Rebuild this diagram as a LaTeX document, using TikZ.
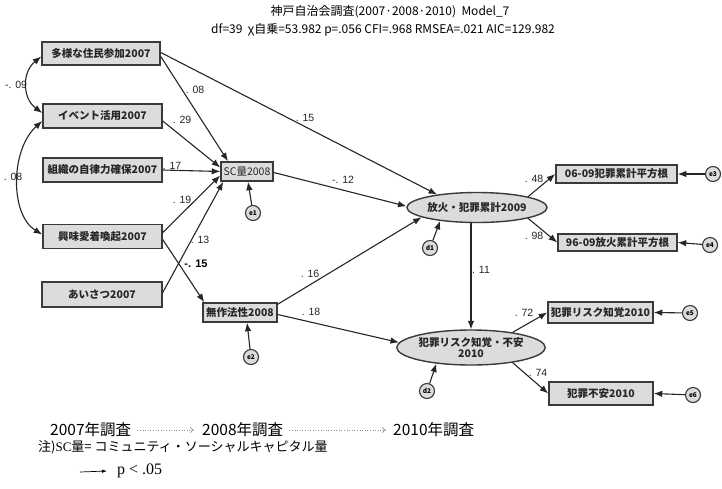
\documentclass[tikz,border=0pt]{standalone}
\usepackage{fontspec}
\setmainfont{Noto Sans CJK JP}
\newfontfamily\labfont{Liberation Sans}
\newfontfamily\serfont{Liberation Serif}
\usetikzlibrary{arrows.meta,shapes.geometric}
\definecolor{boxfill}{HTML}{DCDCDC}
\definecolor{edgecol}{HTML}{3A3A3A}
\definecolor{linecol}{HTML}{262626}
\begin{document}
\begin{tikzpicture}[x=1pt,y=-1pt,
  obs/.style={draw=edgecol, line width=1.5pt, fill=boxfill, inner sep=0pt,
    font=\fontsize{10.5}{12}\selectfont\bfseries, text=black!85},
  lat/.style={ellipse, draw=edgecol, line width=1.4pt, fill=boxfill, inner sep=0pt,
    align=center, font=\fontsize{10.5}{11}\selectfont\bfseries, text=black!85},
  err/.style={circle, draw=edgecol, line width=1.1pt, fill=boxfill, minimum size=15pt,
    inner sep=0pt, font=\fontsize{6.5}{7}\selectfont\bfseries},
  arr/.style={draw=linecol, line width=1.1pt, -{Latex[length=8.5pt,width=6.5pt]}},
  dbl/.style={draw=linecol, line width=1.1pt, {Latex[length=8.5pt,width=6.5pt]}-{Latex[length=8.5pt,width=6.5pt]}},
  coef/.style={font=\labfont\fontsize{10.5}{12}\selectfont, inner sep=0pt, text=black!85},
  survey/.style={font=\fontsize{15.5}{18}\selectfont, inner sep=0pt, anchor=west},
  dotarr/.style={draw=black!45, line width=0.6pt, dotted, -{To[length=4pt,width=6pt]}}
]
\useasboundingbox[fill=white] (0,0) rectangle (722,488);

% title
\node[font=\fontsize{12}{14}\selectfont, inner sep=0pt] (t1) at (390,12) {神戸自治会調査(2007·2008·2010)\ \ Model\_7};
\node[font=\fontsize{12}{14}\selectfont, inner sep=0pt] (t2) at (383,30) {df=39\ \ χ自乗=53.982 p=.056 CFI=.968 RMSEA=.021 AIC=129.982};

% observed exogenous
\node[obs, minimum width=118pt, minimum height=23pt] (tas) at (101,53.5) {多様な住民参加2007};
\node[obs, minimum width=119pt, minimum height=24pt] (ev) at (102.5,116) {イベント活用2007};
\node[obs, minimum width=119pt, minimum height=24pt] (so) at (102.5,170) {組織の自律力確保2007};
\node[obs, minimum width=119pt, minimum height=24pt] (ky) at (102.5,236.5) {興味愛着喚起2007};
\node[obs, minimum width=120pt, minimum height=25pt] (ai) at (102,294.5) {あいさつ2007};

% 2008
\node[obs, minimum width=52pt, minimum height=19pt, font=\fontsize{10.5}{12}\selectfont] (sc) at (247,171.5) {SC量2008};
\node[obs, minimum width=74pt, minimum height=19pt] (mu) at (240,312.5) {無作法性2008};

% latent
\node[lat, minimum width=118pt, minimum height=30pt] (hk) at (477,207.5) {放火・犯罪累計2009};
\node[lat, minimum width=122pt, minimum height=35pt] (hr) at (471,347.5) {犯罪リスク知覚・不安\\2010};

% indicators
\node[obs, minimum width=121pt, minimum height=18pt] (b1) at (616.5,174) {06-09犯罪累計平方根};
\node[obs, minimum width=119pt, minimum height=17pt] (b2) at (617.5,242.5) {96-09放火累計平方根};
\node[obs, minimum width=105pt, minimum height=21pt] (b3) at (600.5,312.5) {犯罪リスク知覚2010};
\node[obs, minimum width=104pt, minimum height=23pt] (b4) at (601,393.5) {犯罪不安2010};

% errors
\node[err] (e1) at (253,213) {e1};
\node[err] (e2) at (251,357) {e2};
\node[err] (d1) at (430,248) {d1};
\node[err] (d2) at (427,391) {d2};
\node[err] (e3) at (713,174) {e3};
\node[err] (e4) at (710,245) {e4};
\node[err] (e5) at (690,313) {e5};
\node[err] (e6) at (693,395) {e6};

% covariances
\draw[dbl] ([yshift=-3pt]tas.west) .. controls (22,72) and (22,98) .. ([yshift=3pt]ev.west);
\draw[dbl] ([yshift=-5pt]ev.west) .. controls (10,150) and (10,215) .. ([yshift=2pt]ky.west);

% paths to SC
\draw[arr] ([yshift=-3pt]tas.east) -- ([xshift=-19pt]sc.north);
\draw[arr] ([yshift=-5pt]ev.east) -- ([yshift=4pt]sc.west);
\draw[arr] (so.east) -- (sc.west);
\draw[arr] ([yshift=4pt]ky.east) -- ([yshift=-4pt]sc.west);
\draw[arr] ([yshift=2pt]ai.east) -- ([xshift=3pt]sc.south west);
% to mu
\draw[arr] ([yshift=-3pt]ky.east) -- ([xshift=2pt]mu.north west);
% to hk
\draw[arr] ([yshift=1pt]tas.east) -- (hk.162);
\draw[arr] ([yshift=-1pt]sc.east) -- (hk.179);
\draw[arr] ([yshift=-2pt]mu.north east) -- (hk.190);
% to hr
\draw[arr] ([yshift=-2pt]mu.east) -- (hr.176);
\draw[arr] (hk.south -| hr.north) -- (hr.north);
% indicators
\draw[arr] (hk.12) -- (b1.west);
\draw[arr] (hk.-12) -- (b2.west);
\draw[arr] (hr.20) -- (b3.west);
\draw[arr] (hr.-20) -- (b4.west);
% errors
\draw[arr] (e1) -- ([xshift=1pt]sc.south);
\draw[arr] (e2) -- ([xshift=7pt]mu.south);
\draw[arr] (d1) -- (hk.200);
\draw[arr] (d2) -- (hr.205);
\draw[arr] (e3) -- (b1.east);
\draw[arr] (e4) -- (b2.east);
\draw[arr] (e5) -- (b3.east);
\draw[arr] (e6) -- (b4.east);

% coefficients
\node[coef] (c1) at (16,85) {-. 09};
\node[coef] (c2) at (13,177) {. 08};
\node[coef] (c3) at (195,90) {. 08};
\node[coef] (c4) at (182,120) {. 29};
\node[coef] (c5) at (172,166) {. 17};
\node[coef] (c6) at (182,200) {. 19};
\node[coef] (c7) at (200,240) {. 13};
\node[coef, font=\labfont\bfseries\fontsize{11}{12}\selectfont, text=black] (c8) at (196,264) {-. 15};
\node[coef] (c9) at (305,118) {. 15};
\node[coef] (c10) at (343,180) {-. 12};
\node[coef] (c11) at (310,274) {. 16};
\node[coef] (c12) at (311,312) {. 18};
\node[coef] (c13) at (481,270) {. 11};
\node[coef] (c14) at (534,179) {. 48};
\node[coef] (c15) at (534,236) {. 98};
\node[coef] (c16) at (524,313) {. 72};
\node[coef] (c17) at (538,373) {. 74};

% survey timeline
\node[survey] (y7) at (50,430) {2007年調査};
\node[survey] (y8) at (202,430) {2008年調査};
\node[survey] (y10) at (393,430) {2010年調査};
\draw[dotarr] ([xshift=6pt]y7.east) -- ([xshift=-8pt]y8.west);
\draw[dotarr] ([xshift=6pt]y8.east) -- ([xshift=-7pt]y10.west);

% notes
\node[anchor=west, inner sep=0pt, font=\fontsize{13}{15}\selectfont] (note) at (38,447) {注){\serfont SC}量= コミュニティ・ソーシャルキャピタル量};
\coordinate (la) at (80,472);
\node[anchor=west, inner sep=0pt, font=\serfont\fontsize{16}{17}\selectfont] (pl) at (117,471) {p\ <\ .05};
\draw[draw=black, line width=0.7pt, -{Latex[length=5pt,width=3.5pt]}] (la) -- ([xshift=-10pt]pl.west);
\end{tikzpicture}
\end{document}
